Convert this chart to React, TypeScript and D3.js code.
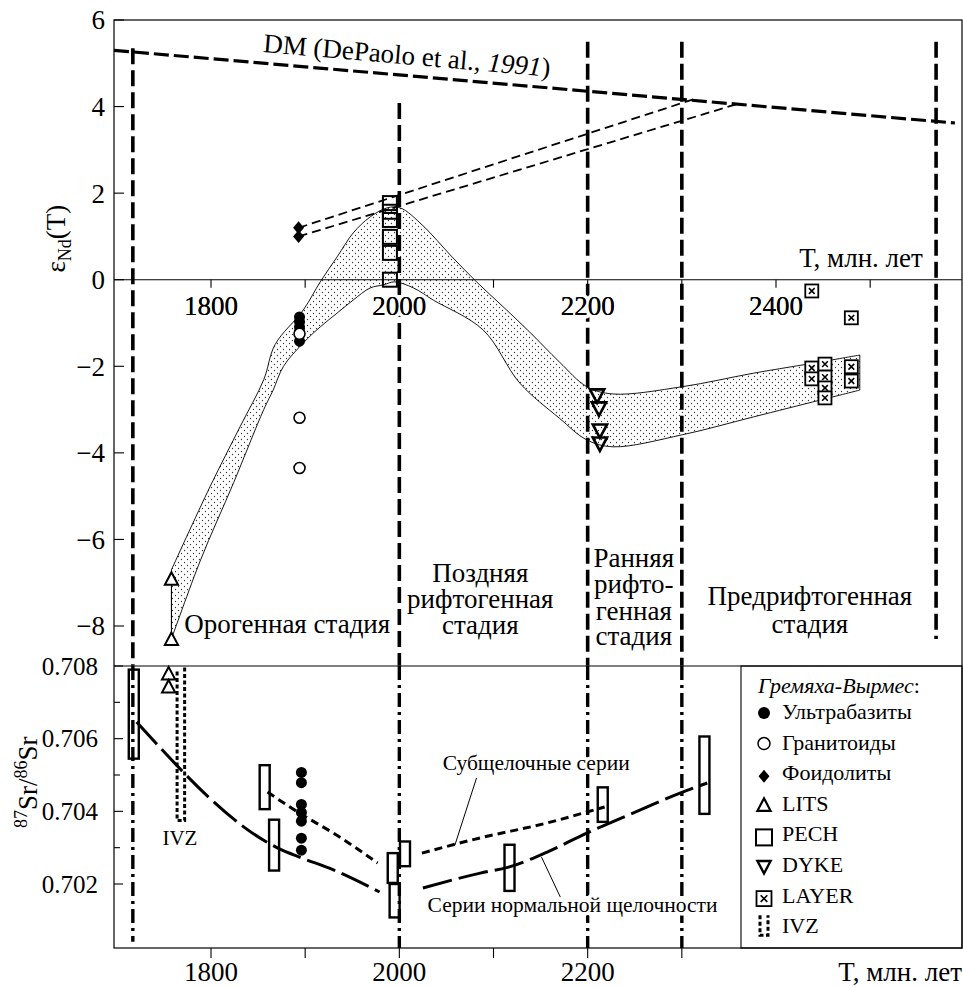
import React from 'react';
import * as d3 from 'd3';

const W = 963;
const H = 987;
const FONT = "'Liberation Serif', 'DejaVu Serif', 'Times New Roman', serif";

// ---------- axes ----------
const xTicksTop = [1800, 1900, 2000, 2100, 2200, 2300, 2400, 2500];
const xLabelsTop = [1800, 2000, 2200, 2400];
const xTicksBottom = [1800, 1900, 2000, 2100, 2200, 2300];
const xLabelsBottom = [1800, 2000, 2200];
const epsTicks = [6, 4, 2, 0, -2, -4, -6, -8];
const srMajor = [0.708, 0.706, 0.704, 0.702];
const srMinor = [0.707, 0.705, 0.703];

// ---------- DM line ----------
const dmT = [1697, 2590];
const dmE = [5.3, 3.62];

// ---------- stage boundaries ----------
const boundT = [1717, 2000, 2200, 2300, 2570];
const boundTopE = [5.35, 4.08, 5.5, 5.5, 5.5];
const boundEndE = [-8.92, -8.92, -8.92, -8.92, -8.3];
const boundBottomSr = [0.70041, 0.70024, 0.70024, 0.70024, null];

// ---------- band ----------
const bandUpperT = [1758, 1799, 1831, 1856, 1868, 1898, 1916, 1934, 1951, 1969, 1987, 2001, 2025, 2055, 2082, 2110, 2138, 2170, 2199, 2227, 2301, 2376, 2447, 2489];
const bandUpperE = [-6.7, -4.78, -3.39, -2.31, -1.5, -0.7, -0.05, 0.53, 1.08, 1.45, 1.66, 1.66, 1.25, 0.55, -0.05, -0.62, -1.2, -1.9, -2.47, -2.64, -2.47, -2.16, -1.9, -1.74];
const bandLowerT = [1758, 1789, 1824, 1856, 1866, 1877, 1898, 1916, 1934, 1951, 1969, 1983, 1995, 2015, 2036, 2089, 2128, 2170, 2199, 2227, 2301, 2376, 2447, 2489];
const bandLowerE = [-8.3, -6.47, -4.69, -3.0, -2.55, -2.0, -1.46, -1.09, -0.77, -0.47, -0.19, -0.12, -0.05, -0.19, -0.47, -1.16, -2.39, -3.2, -3.7, -3.86, -3.58, -3.17, -2.78, -2.55];

// ---------- εNd points ----------
const ultraT = [1894, 1894, 1894, 1894, 1894];
const ultraE = [-0.86, -0.97, -1.09, -1.2, -1.42];
const graniteT = [1894, 1894, 1894];
const graniteE = [-1.25, -3.19, -4.35];
const foidT = [1893, 1893];
const foidE = [1.2, 1.0];
const foidEndT = [2314, 2359];
const foidEndE = [4.18, 4.06];
const litsT = [1758, 1758];
const litsE = [-6.93, -8.32];
const pechT = [1990, 1990, 1990, 1990, 1990, 1990];
const pechE = [1.77, 1.57, 1.38, 0.99, 0.62, 0.0];
const dykeT = [2210, 2212, 2213, 2213];
const dykeE = [-2.66, -2.96, -3.47, -3.77];
const layerT = [2438, 2438, 2452, 2452, 2452, 2452, 2480, 2480, 2438, 2480];
const layerE = [-2.04, -2.29, -1.95, -2.25, -2.5, -2.73, -2.01, -2.34, -0.26, -0.88];

// ---------- Sr panel ----------
const rectT = [1718, 1857, 1867, 1993, 1995, 2006, 2117, 2216, 2324];
const rectLo = [0.70545, 0.70406, 0.70237, 0.70203, 0.70108, 0.70249, 0.70181, 0.70371, 0.70393];
const rectHi = [0.7079, 0.70527, 0.70377, 0.70285, 0.702, 0.70317, 0.70308, 0.70466, 0.70606];
const srUltraT = [1896, 1896, 1896, 1896, 1896, 1896, 1896];
const srUltraS = [0.70507, 0.70479, 0.70419, 0.70397, 0.70373, 0.70326, 0.70293];
const srLitsT = [1755, 1755];
const srLitsS = [0.70777, 0.70741];
const ivzT = [1764, 1772];
const ivzTopS = [0.70785, 0.708];
const ivzBottomS = 0.70375;

const normT1 = [1721, 1871, 1894, 1930, 1979];
const normS1 = [0.70646, 0.70299, 0.70274, 0.70239, 0.70178];
const normT2 = [2025, 2086, 2117, 2157, 2199, 2256, 2298, 2327];
const normS2 = [0.70189, 0.7023, 0.70247, 0.70288, 0.7034, 0.70404, 0.7045, 0.70478];
const subT1 = [1860, 1894, 1930, 1977];
const subS1 = [0.70453, 0.70395, 0.7034, 0.70258];
const subT2 = [2024, 2086, 2157, 2199, 2218];
const subS2 = [0.70285, 0.70327, 0.70368, 0.70398, 0.70412];

const legendItems = ['Ультрабазиты', 'Гранитоиды', 'Фоидолиты', 'LITS', 'PECH', 'DYKE', 'LAYER', 'IVZ'];

// ---------- scales ----------
const x = d3.scaleLinear().domain([1800, 2400]).range([211, 776]);
const yTop = d3.scaleLinear().domain([6, -8]).range([20, 626]);
const yBot = d3.scaleLinear().domain([0.708, 0.702]).range([666, 884]);

const L = 114;
const R = 962;
const TOP = 20;
const MID = 666;
const BOT = 948;

const zip = (a: number[], b: number[]) => a.map((v, i) => [v, b[i]] as [number, number]);

const lineTop = d3.line<[number, number]>().x(d => x(d[0])).y(d => yTop(d[1]));
const curveTop = d3.line<[number, number]>().x(d => x(d[0])).y(d => yTop(d[1])).curve(d3.curveCatmullRom.alpha(0.5));
const lineBot = d3.line<[number, number]>().x(d => x(d[0])).y(d => yBot(d[1])).curve(d3.curveMonotoneX);

const triUp = (s: number) => `M0,${-s * 0.62}L${s * 0.55},${s * 0.42}L${-s * 0.55},${s * 0.42}Z`;
const triDown = (s: number) => `M0,${s * 0.62}L${s * 0.55},${-s * 0.42}L${-s * 0.55},${-s * 0.42}Z`;
const diamond = (w: number, h: number) => `M0,${-h / 2}L${w / 2},0L0,${h / 2}L${-w / 2},0Z`;

const halo = { paintOrder: 'stroke' as const, stroke: 'white', strokeWidth: 7, strokeLinejoin: 'round' as const };

function Layer({ cx, cy, s }: { cx: number; cy: number; s: number }) {
  const h = s / 2;
  const k = s * 0.22;
  return (
    <g transform={`translate(${cx},${cy})`}>
      <rect x={-h} y={-h} width={s} height={s} fill="white" stroke="black" strokeWidth={1.8} />
      <path d={`M${-k},${-k}L${k},${k}M${k},${-k}L${-k},${k}`} stroke="black" strokeWidth={1.6} />
    </g>
  );
}

export default function App() {
  const upper = zip(bandUpperT, bandUpperE);
  const lower = zip(bandLowerT, bandLowerE).reverse();
  const bandPath = (curveTop(upper) || '') + 'L' + (curveTop(lower) || '').slice(1) + 'Z';

  const dmPts = zip(dmT, dmE);

  return (
    <svg width={W} height={H} style={{ position: 'absolute', left: 0, top: 0, background: 'white', fontFamily: FONT }}>
      <defs>
        <pattern id="dots" width="6" height="6" patternUnits="userSpaceOnUse">
          <circle cx="1.5" cy="1.5" r="0.65" fill="#333" />
          <circle cx="4.5" cy="4.5" r="0.65" fill="#333" />
        </pattern>
      </defs>
      <rect x={0} y={0} width={W} height={H} fill="white" />

      {/* ===== TOP PANEL ===== */}
      <path d={bandPath} fill="url(#dots)" stroke="black" strokeWidth={0.9} />

      <line x1={L} x2={R} y1={yTop(0)} y2={yTop(0)} stroke="black" strokeWidth={1.1} />
      {xTicksTop.map(t => (
        <line key={'tt' + t} x1={x(t)} x2={x(t)} y1={yTop(0)} y2={yTop(0) + 8} stroke="black" strokeWidth={1.1} />
      ))}

      {boundT.map((t, i) => (
        <line key={'bt' + t} x1={x(t)} x2={x(t)} y1={yTop(boundTopE[i])} y2={yTop(boundEndE[i])}
          stroke="black" strokeWidth={3.6} strokeDasharray="16 6" />
      ))}

      {xLabelsTop.map(t => (
        <text key={'tl' + t} x={x(t)} y={yTop(0) + 35} textAnchor="middle" fontSize={27} {...halo}>
          <tspan fill="black">{t}</tspan>
        </text>
      ))}
      {xLabelsTop.map(t => (
        <text key={'tl2' + t} x={x(t)} y={yTop(0) + 35} textAnchor="middle" fontSize={27} fill="black">{t}</text>
      ))}

      <path d={lineTop(dmPts) || ''} fill="none" stroke="black" strokeWidth={3.2} strokeDasharray="15 5" />
      <text fontSize={27} transform={`translate(${x(1855)},${yTop(5.26)}) rotate(4.9)`}>
        DM (DePaolo et al., <tspan fontStyle="italic">1991</tspan>)
      </text>

      {foidT.map((t, i) => (
        <path key={'fl' + i} d={lineTop([[t, foidE[i]], [foidEndT[i], foidEndE[i]]]) || ''} fill="none"
          stroke="black" strokeWidth={1.8} strokeDasharray="9 5" />
      ))}

      <line x1={x(litsT[0])} x2={x(litsT[1])} y1={yTop(litsE[0])} y2={yTop(litsE[1])} stroke="black" strokeWidth={1} />

      {ultraT.map((t, i) => (
        <circle key={'u' + i} cx={x(t)} cy={yTop(ultraE[i])} r={5.5} fill="black" />
      ))}
      {graniteT.map((t, i) => (
        <circle key={'g' + i} cx={x(t)} cy={yTop(graniteE[i])} r={5.5} fill="white" stroke="black" strokeWidth={1.6} />
      ))}
      {foidT.map((t, i) => (
        <path key={'f' + i} transform={`translate(${x(t)},${yTop(foidE[i])})`} d={diamond(11, 13)} fill="black" />
      ))}
      {litsT.map((t, i) => (
        <path key={'l' + i} transform={`translate(${x(t)},${yTop(litsE[i])})`} d={triUp(12)} fill="white" stroke="black" strokeWidth={2} />
      ))}
      {pechT.map((t, i) => (
        <rect key={'p' + i} x={x(t) - 7} y={yTop(pechE[i]) - 7} width={14} height={14} fill="none" stroke="black" strokeWidth={2} />
      ))}
      {dykeT.map((t, i) => (
        <path key={'d' + i} transform={`translate(${x(t)},${yTop(dykeE[i])})`} d={triDown(13)} fill="none" stroke="black" strokeWidth={2.6} />
      ))}
      {layerT.map((t, i) => (
        <Layer key={'ly' + i} cx={x(t)} cy={yTop(layerE[i])} s={13} />
      ))}

      <text x={x(2556)} y={yTop(0.3)} textAnchor="end" fontSize={27}>T, млн. лет</text>

      <text x={x(1881)} y={yTop(-8.16)} textAnchor="middle" fontSize={27}>Орогенная стадия</text>
      <text textAnchor="middle" fontSize={27}>
        <tspan x={x(2086)} y={yTop(-6.98)}>Поздняя</tspan>
        <tspan x={x(2086)} y={yTop(-7.58)}>рифтогенная</tspan>
        <tspan x={x(2086)} y={yTop(-8.18)}>стадия</tspan>
      </text>
      <text textAnchor="middle" fontSize={27}>
        <tspan x={x(2249)} y={yTop(-6.63)}>Ранняя</tspan>
        <tspan x={x(2249)} y={yTop(-7.23)}>рифто-</tspan>
        <tspan x={x(2249)} y={yTop(-7.85)}>генная</tspan>
        <tspan x={x(2249)} y={yTop(-8.43)}>стадия</tspan>
      </text>
      <text textAnchor="middle" fontSize={27}>
        <tspan x={x(2436)} y={yTop(-7.51)}>Предрифтогенная</tspan>
        <tspan x={x(2436)} y={yTop(-8.16)}>стадия</tspan>
      </text>

      {epsTicks.map(v => (
        <g key={'e' + v}>
          <line x1={L} x2={L + 10} y1={yTop(v)} y2={yTop(v)} stroke="black" strokeWidth={1.1} />
          <text x={L - 9} y={yTop(v)} dy="0.35em" textAnchor="end" fontSize={27}>{v < 0 ? '−' + Math.abs(v) : v}</text>
        </g>
      ))}
      <text transform={`translate(65,${yTop(0.95)}) rotate(-90)`} textAnchor="middle" fontSize={27}>
        ε<tspan fontSize={18} dy={6}>Nd</tspan><tspan dy={-6}>(T)</tspan>
      </text>

      {/* ===== BOTTOM PANEL ===== */}
      {boundT.map((t, i) => boundBottomSr[i] === null ? null : (
        <line key={'bb' + t} x1={x(t)} x2={x(t)} y1={MID} y2={yBot(boundBottomSr[i] as number)}
          stroke="black" strokeWidth={3.4} strokeDasharray="14 5 3 5" />
      ))}

      <path d={lineBot(zip(normT1, normS1)) || ''} fill="none" stroke="black" strokeWidth={3} strokeDasharray="30 7" />
      <path d={lineBot(zip(normT2, normS2)) || ''} fill="none" stroke="black" strokeWidth={3} strokeDasharray="30 7" />
      <path d={lineBot(zip(subT1, subS1)) || ''} fill="none" stroke="black" strokeWidth={3} strokeDasharray="8 5" />
      <path d={lineBot(zip(subT2, subS2)) || ''} fill="none" stroke="black" strokeWidth={3} strokeDasharray="8 5" />

      {rectT.map((t, i) => (
        <rect key={'r' + i} x={x(t) - 5} y={yBot(rectHi[i])} width={10} height={yBot(rectLo[i]) - yBot(rectHi[i])}
          fill="none" stroke="black" strokeWidth={2.4} />
      ))}

      <path d={`M${x(ivzT[0])},${yBot(ivzTopS[0])}L${x(ivzT[0])},${yBot(ivzBottomS)}L${x(ivzT[1])},${yBot(ivzBottomS)}L${x(ivzT[1])},${yBot(ivzTopS[1])}`}
        fill="none" stroke="black" strokeWidth={3} strokeDasharray="4 2.5" />
      <text x={x(1767)} y={yBot(0.70307)} textAnchor="middle" fontSize={21}>IVZ</text>

      {srLitsT.map((t, i) => (
        <path key={'sl' + i} transform={`translate(${x(t)},${yBot(srLitsS[i])})`} d={triUp(12)} fill="white" stroke="black" strokeWidth={2} />
      ))}
      {srUltraT.map((t, i) => (
        <circle key={'su' + i} cx={x(t)} cy={yBot(srUltraS[i])} r={5.5} fill="black" />
      ))}

      <line x1={x(2082)} y1={yBot(0.70492)} x2={x(2059)} y2={yBot(0.70307)} stroke="black" strokeWidth={1} />
      <line x1={x(2151)} y1={yBot(0.70274)} x2={x(2171)} y2={yBot(0.70164)} stroke="black" strokeWidth={1} />
      <text x={x(2046)} y={yBot(0.70514)} fontSize={21.5} {...halo}><tspan fill="black">Субщелочные серии</tspan></text>
      <text x={x(2030)} y={yBot(0.70123)} fontSize={21.5} {...halo}><tspan fill="black">Серии нормальной щелочности</tspan></text>

      {srMajor.map(v => (
        <g key={'s' + v}>
          <line x1={L} x2={L + 9} y1={yBot(v)} y2={yBot(v)} stroke="black" strokeWidth={1.1} />
          <text x={L - 16} y={yBot(v)} dy="0.35em" textAnchor="end" fontSize={25}>{v.toFixed(3)}</text>
        </g>
      ))}
      {srMinor.map(v => (
        <line key={'sm' + v} x1={L} x2={L + 6} y1={yBot(v)} y2={yBot(v)} stroke="black" strokeWidth={1.1} />
      ))}
      <text transform={`translate(37,${yBot(0.7048)}) rotate(-90)`} textAnchor="middle" fontSize={27}>
        <tspan fontSize={18} dy={-10}>87</tspan><tspan dy={10}>Sr/</tspan><tspan fontSize={18} dy={-10}>86</tspan><tspan dy={10}>Sr</tspan>
      </text>

      {xTicksBottom.map(t => (
        <line key={'xb' + t} x1={x(t)} x2={x(t)} y1={BOT} y2={BOT + 10} stroke="black" strokeWidth={1.1} />
      ))}
      {xLabelsBottom.map(t => (
        <text key={'xbl' + t} x={x(t)} y={BOT + 33} textAnchor="middle" fontSize={27}>{t}</text>
      ))}
      <text x={R} y={BOT + 33} textAnchor="end" fontSize={27}>T, млн. лет</text>

      <rect x={741} y={MID} width={R - 741} height={BOT - MID} fill="white" stroke="black" strokeWidth={1.1} />
      <text x={758} y={693} fontSize={22}><tspan fontStyle="italic">Гремяха-Вырмес</tspan>:</text>
      {legendItems.map((name, i) => {
        const cy = 713 + i * 30.6;
        const cx = 764;
        let sym: React.ReactNode = null;
        if (i === 0) sym = <circle cx={cx} cy={cy} r={6} fill="black" />;
        if (i === 1) sym = <circle cx={cx} cy={cy} r={6} fill="white" stroke="black" strokeWidth={1.5} />;
        if (i === 2) sym = <path transform={`translate(${cx},${cy + 2})`} d={diamond(11, 13)} fill="black" />;
        if (i === 3) sym = <path transform={`translate(${cx},${cy + 1})`} d={triUp(12)} fill="white" stroke="black" strokeWidth={2.2} />;
        if (i === 4) sym = <rect x={cx - 8} y={cy - 6} width={16} height={16} fill="white" stroke="black" strokeWidth={2} />;
        if (i === 5) sym = <path transform={`translate(${cx},${cy})`} d={triDown(12)} fill="white" stroke="black" strokeWidth={2.4} />;
        if (i === 6) sym = <Layer cx={cx} cy={cy + 2} s={15} />;
        if (i === 7) sym = <path d={`M${cx - 4},${cy - 12}L${cx - 4},${cy + 8}L${cx + 4},${cy + 8}L${cx + 4},${cy - 12}`} fill="none" stroke="black" strokeWidth={3} strokeDasharray="4 2.5" />;
        return (
          <g key={'lg' + i}>
            {sym}
            <text x={782} y={cy + 6} fontSize={22}>{name}</text>
          </g>
        );
      })}

      <rect x={L} y={TOP} width={R - L} height={BOT - TOP} fill="none" stroke="black" strokeWidth={1.2} />
      <line x1={L} x2={R} y1={MID} y2={MID} stroke="black" strokeWidth={1.2} />
    </svg>
  );
}
